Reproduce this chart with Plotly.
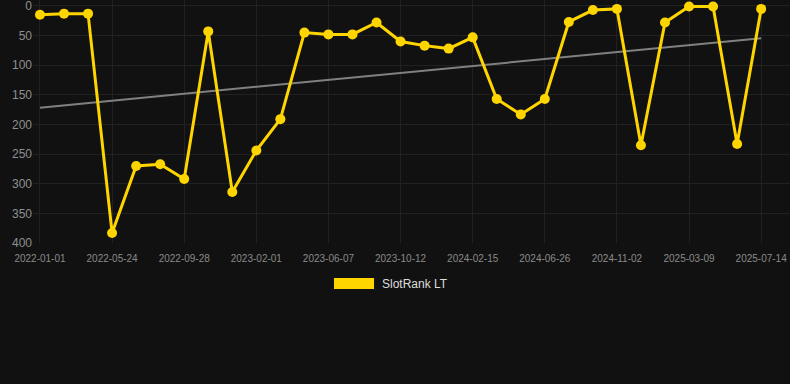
import numpy as np
import plotly.graph_objects as go

# ---- data ----
dates = [
    "2022-01-01", "2022-02-17", "2022-04-06",
    "2022-05-24", "2022-07-05", "2022-08-16",
    "2022-09-28", "2022-11-09", "2022-12-21",
    "2023-02-01", "2023-03-15", "2023-04-26",
    "2023-06-07", "2023-07-19", "2023-08-30",
    "2023-10-12", "2023-11-23", "2024-01-04",
    "2024-02-15", "2024-03-28", "2024-05-14",
    "2024-06-26", "2024-08-07", "2024-09-20",
    "2024-11-02", "2024-12-14", "2025-01-25",
    "2025-03-09", "2025-04-20", "2025-06-01",
    "2025-07-14",
]
rank = [15, 13, 13, 383, 270, 267, 292, 43, 314, 244, 191, 45, 48, 48, 28,
        60, 67, 72, 53, 157, 183, 157, 27, 7, 5, 235, 28, 1, 1, 233, 5]
tick_labels = dates[::3]
y_ticks = [0, 50, 100, 150, 200, 250, 300, 350, 400]
series_name = "SlotRank LT"

# ---- trend (linear regression) ----
idx = np.arange(len(rank))
slope, intercept = np.polyfit(idx, rank, 1)
trend = slope * idx + intercept

BG = "#111111"
GRID = "#212121"
GOLD = "#FFD500"

fig = go.Figure()
fig.add_trace(go.Scatter(
    x=dates, y=trend, mode="lines",
    line=dict(color="#808080", width=2),
    showlegend=False, hoverinfo="skip",
))
fig.add_trace(go.Scatter(
    x=dates, y=rank, mode="lines+markers", name=series_name,
    line=dict(color=GOLD, width=3),
    marker=dict(color=GOLD, size=10),
    showlegend=False,
))

# legend (box + label) placed below the plot
fig.add_shape(type="rect", xref="paper", yref="paper",
              x0=0.3976, x1=0.4505, y0=-0.1893, y1=-0.144,
              fillcolor=GOLD, line=dict(color="#C9A800", width=0))
fig.add_annotation(xref="paper", yref="paper", x=0.4584, y=-0.1687,
                   text=series_name, showarrow=False, xanchor="left",
                   yanchor="middle",
                   font=dict(size=12, color="#DDDDDD"))

fig.update_layout(
    width=790, height=384,
    margin=dict(l=33, r=0, t=0, b=141),
    paper_bgcolor=BG, plot_bgcolor=BG,
    font=dict(family="Liberation Sans, Arial, sans-serif", color="#999999"),
    showlegend=False,
)
fig.update_xaxes(
    type="category", categoryorder="array", categoryarray=dates,
    range=[-0.29, 31.2],
    tickmode="array", tickvals=tick_labels, ticktext=tick_labels,
    showgrid=True, gridcolor=GRID, gridwidth=1,
    zeroline=False, showline=False,
    ticks="outside", ticklen=6, tickcolor=BG,
    ticklabeloverflow="allow",
    tickfont=dict(size=10, color="#8A8A8A"),
)
fig.update_yaxes(
    range=[400, -10],
    tickmode="array", tickvals=y_ticks,
    showgrid=True, gridcolor=GRID, gridwidth=1,
    zeroline=False, showline=False,
    ticks="", ticklabeloverflow="allow",
    tickfont=dict(size=12, color="#8F8F8F"),
)

fig.write_html(
    "out.html",
    config={"displayModeBar": False},
    post_script="document.body.style.margin='0';document.body.style.background='#111111';",
)
